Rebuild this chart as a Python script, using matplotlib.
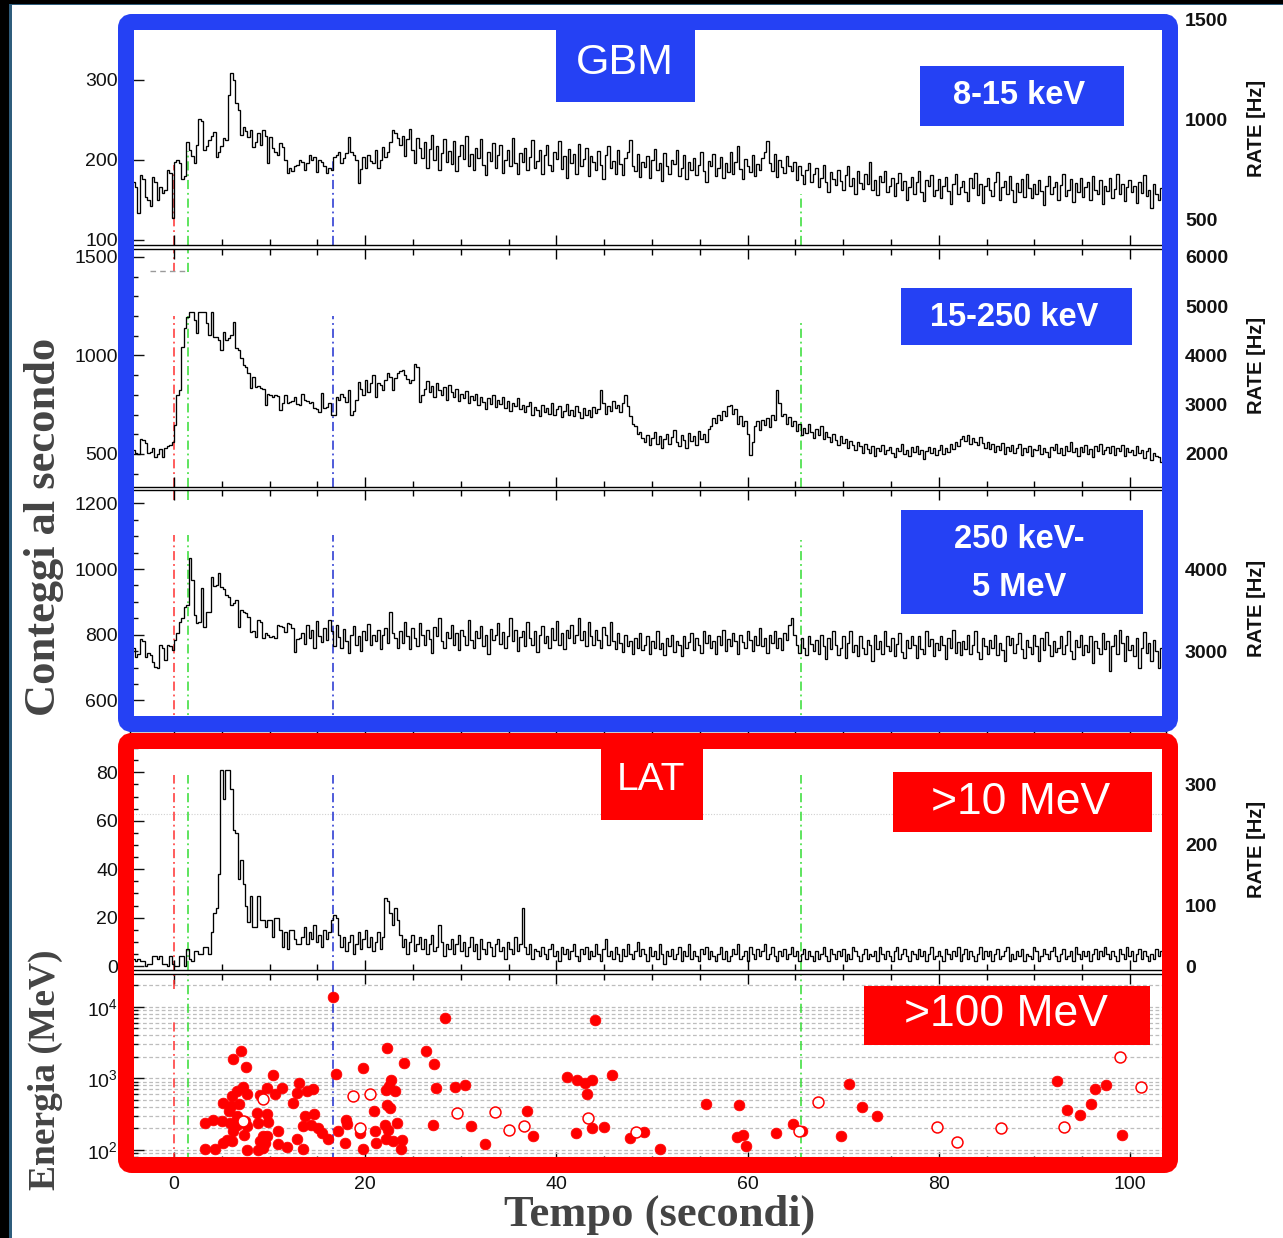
import numpy as np
import matplotlib
matplotlib.use("Agg")
import matplotlib.pyplot as plt
from matplotlib.patches import Rectangle, FancyBboxPatch
from matplotlib.ticker import MultipleLocator, FixedLocator, LogLocator, NullFormatter

plt.rcParams['font.family'] = ['Liberation Sans', 'DejaVu Sans']
plt.rcParams['mathtext.fontset'] = 'custom'
plt.rcParams['mathtext.rm'] = 'Liberation Sans'
plt.rcParams['mathtext.it'] = 'Liberation Sans:italic'

# ---------------------------------------------------------------- data
# light curves: counts per 0.256 s bin, first bin starting at -4.608 s
BIN_START, BIN_WIDTH, N_BINS = -4.608, 0.256, 424
RATE_PER_COUNT = 4.0  # right-hand axis scale (Hz per count)

# GBM NaI 8-15 keV
rate_8_15 = [
    158, 172, 166, 134, 181, 176, 154, 150, 142, 179,
    172, 150, 166, 159, 162, 188, 184, 127, 198, 200,
    196, 176, 180, 223, 212, 205, 196, 219, 251, 248,
    212, 218, 225, 230, 235, 204, 210, 217, 227, 225,
    281, 308, 300, 271, 262, 231, 241, 236, 229, 237,
    216, 222, 234, 219, 237, 230, 196, 229, 215, 210,
    206, 221, 216, 200, 184, 190, 186, 192, 194, 200,
    197, 188, 196, 206, 200, 204, 185, 200, 198, 192,
    184, 190, 188, 204, 206, 210, 196, 203, 209, 229,
    210, 206, 200, 171, 189, 204, 190, 206, 199, 196,
    212, 190, 200, 216, 204, 210, 223, 237, 234, 228,
    219, 230, 205, 226, 238, 212, 196, 228, 215, 203,
    222, 190, 214, 231, 200, 218, 188, 209, 226, 198,
    211, 195, 224, 186, 205, 219, 201, 230, 193, 208,
    188, 215, 202, 226, 194, 181, 210, 199, 221, 190,
    206, 219, 184, 200, 213, 192, 227, 196, 183, 209,
    197, 215, 188, 204, 225, 190, 199, 212, 182, 206,
    219, 194, 186, 210, 201, 224, 189, 205, 178, 214,
    196, 208, 183, 220, 192, 201, 215, 180, 205, 197,
    188, 211, 194, 176, 206, 218, 190, 199, 183, 212,
    195, 181, 203, 210, 225, 192, 186, 207, 179, 198,
    191, 205, 178, 200, 214, 187, 196, 174, 209, 192,
    183, 200, 195, 212, 180, 190, 206, 176, 198, 188,
    203, 181, 194, 210, 186, 173, 199, 192, 208, 180,
    190, 204, 177, 196, 185, 210, 183, 198, 218, 189,
    176, 201, 192, 185, 206, 180, 195, 188, 203, 210,
    224, 196, 186, 208, 179, 200, 191, 184, 205, 193,
    186, 198, 175, 192, 181, 170, 188, 196, 172, 183,
    190, 166, 178, 194, 172, 160, 185, 176, 169, 188,
    174, 162, 181, 192, 168, 177, 158, 186, 171, 164,
    183, 170, 197, 163, 175, 156, 180, 172, 186, 160,
    168, 178, 155, 171, 184, 162, 174, 150, 166, 179,
    158, 172, 186, 160, 149, 175, 167, 181, 155, 163,
    176, 152, 168, 179, 161, 145, 170, 183, 158, 166,
    174, 160, 149, 177, 165, 184, 156, 170, 146, 168,
    178, 162, 155, 172, 185, 150, 166, 174, 158, 180,
    163, 148, 171, 160, 176, 154, 182, 165, 152, 170,
    158, 175, 161, 144, 168, 180, 157, 166, 173, 150,
    169, 183, 155, 162, 176, 148, 171, 160, 178, 154,
    166, 172, 150, 180, 163, 157, 175, 145, 168, 161,
    177, 153, 164, 182, 158, 170, 149, 166, 175, 160,
    168, 146, 172, 159, 181, 155, 163, 140, 170, 158,
    150, 165, 138, 125,
]

# GBM NaI 15-250 keV
rate_15_250 = [
    510, 520, 503, 498, 576, 570, 556, 503, 510, 530,
    485, 500, 525, 485, 530, 540, 546, 561, 647, 800,
    825, 1043, 1140, 1195, 1222, 1222, 1180, 1114, 1222, 1222,
    1222, 1165, 1104, 1222, 1094, 1094, 1079, 1028, 1119, 1079,
    1090, 1104, 1170, 1038, 1030, 987, 952, 940, 911, 835,
    891, 840, 845, 835, 830, 749, 805, 800, 790, 800,
    795, 723, 760, 800, 759, 764, 770, 790, 754, 750,
    805, 774, 770, 759, 762, 734, 730, 713, 810, 734,
    740, 759, 698, 700, 790, 774, 805, 790, 764, 825,
    698, 720, 774, 866, 830, 800, 876, 815, 860, 901,
    790, 860, 850, 825, 876, 911, 890, 825, 886, 911,
    920, 926, 901, 880, 860, 876, 957, 940, 764, 800,
    830, 868, 812, 845, 790, 858, 822, 800, 842, 776,
    850, 815, 790, 828, 768, 805, 782, 820, 760, 795,
    772, 805, 748, 790, 765, 730, 782, 755, 798, 740,
    776, 752, 790, 735, 768, 720, 760, 745, 785, 728,
    750, 712, 745, 765, 700, 738, 722, 690, 748, 715,
    735, 705, 760, 698, 728, 742, 685, 720, 752, 700,
    725, 690, 745, 712, 680, 735, 700, 722, 688, 740,
    710, 728, 825, 760, 705, 745, 720, 770, 735, 748,
    715, 760, 800, 742, 690, 650, 640, 600, 612, 580,
    560, 598, 545, 580, 610, 552, 590, 530, 575, 600,
    548, 585, 620, 560, 540, 595, 572, 530, 605, 565,
    590, 545, 615, 578, 600, 560, 625, 640, 680, 655,
    700, 672, 720, 690, 745, 750, 702, 728, 650, 690,
    640, 665, 600, 495, 560, 640, 665, 620, 670, 648,
    680, 635, 700, 672, 825, 760, 690, 705, 650, 688,
    640, 668, 615, 650, 598, 632, 605, 650, 612, 580,
    625, 598, 640, 575, 610, 588, 560, 600, 572, 545,
    590, 556, 575, 530, 568, 545, 520, 560, 538, 505,
    548, 525, 505, 540, 490, 530, 515, 545, 498, 522,
    535, 505, 482, 528, 515, 548, 500, 520, 490, 535,
    510, 542, 498, 520, 475, 515, 535, 505, 528, 492,
    520, 545, 500, 530, 512, 548, 525, 560, 540, 575,
    590, 565, 598, 550, 580, 560, 545, 585, 555, 530,
    560, 525, 548, 510, 540, 520, 555, 498, 535, 515,
    545, 505, 528, 550, 495, 532, 510, 540, 488, 525,
    518, 545, 500, 530, 512, 485, 535, 520, 548, 505,
    530, 495, 540, 515, 560, 508, 528, 490, 535, 512,
    545, 500, 525, 482, 538, 515, 550, 498, 520, 535,
    505, 540, 492, 528, 515, 545, 488, 530, 510, 522,
    495, 538, 505, 520, 480, 515, 530, 470, 505, 490,
    485, 460, 498, 455,
]

# GBM BGO 250 keV - 5 MeV
rate_250_5000 = [
    745, 760, 733, 740, 787, 780, 733, 744, 738, 718,
    702, 700, 769, 760, 723, 769, 765, 753, 784, 805,
    839, 850, 884, 890, 1033, 967, 860, 836, 840, 942,
    824, 869, 870, 976, 948, 950, 988, 946, 940, 921,
    915, 890, 895, 906, 824, 875, 870, 866, 854, 808,
    810, 793, 845, 840, 790, 805, 799, 793, 796, 790,
    830, 828, 824, 808, 836, 832, 820, 747, 787, 790,
    805, 772, 830, 790, 815, 760, 842, 795, 778, 820,
    785, 845, 810, 765, 830, 792, 760, 818, 780, 745,
    800, 826, 770, 795, 750, 812, 785, 832, 768, 800,
    780, 815, 755, 798, 820, 775, 869, 805, 790, 760,
    812, 775, 840, 795, 758, 820, 790, 765, 835, 800,
    770, 815, 788, 745, 822, 795, 850, 780, 760, 808,
    790, 830, 768, 805, 752, 815, 795, 770, 845, 785,
    760, 810, 790, 828, 765, 800, 742, 818, 785, 800,
    835, 772, 808, 760, 795, 850, 780, 815, 750, 792,
    810, 765, 838, 790, 770, 812, 748, 800, 825, 775,
    795, 760, 820, 785, 842, 770, 805, 758, 815, 790,
    830, 775, 800, 852, 785, 810, 765, 838, 795, 770,
    815, 785, 760, 822, 798, 770, 840, 780, 755, 805,
    775, 748, 800, 765, 782, 740, 790, 760, 805, 752,
    770, 795, 742, 780, 760, 812, 755, 775, 738, 790,
    765, 800, 748, 782, 770, 735, 795, 760, 778, 805,
    752, 790, 768, 745, 812, 775, 800, 760, 782, 740,
    795, 770, 815, 750, 788, 765, 805, 780, 742, 800,
    778, 760, 810, 785, 750, 795, 770, 820, 765, 790,
    745, 800, 775, 812, 760, 790, 752, 805, 785, 830,
    851, 800, 770, 745, 790, 760, 738, 795, 772, 750,
    785, 740, 800, 765, 725, 790, 755, 812, 770, 738,
    760, 795, 730, 775, 810, 748, 770, 735, 795, 760,
    742, 785, 768, 720, 800, 755, 780, 740, 812, 765,
    750, 790, 735, 772, 805, 748, 728, 785, 760, 795,
    770, 730, 795, 758, 742, 810, 765, 788, 735, 775,
    752, 795, 768, 725, 790, 760, 815, 745, 778, 738,
    780, 755, 798, 740, 770, 812, 748, 725, 790, 765,
    742, 785, 760, 800, 738, 775, 752, 720, 795, 768,
    790, 745, 772, 805, 755, 730, 785, 762, 740, 798,
    765, 720, 790, 752, 808, 770, 735, 782, 748, 760,
    795, 740, 768, 812, 750, 725, 785, 762, 800, 738,
    770, 748, 795, 715, 780, 760, 742, 805, 755, 782,
    690, 765, 800, 740, 814, 775, 720, 795, 752, 770,
    735, 790, 700, 760, 808, 745, 775, 720, 785, 750,
    700, 760, 680, 730,
]

# LAT > 10 MeV
rate_lat = [
    2, 3, 2, 3, 2, 2, 0, 1, 1, 4,
    4, 3, 4, 1, 1, 0, 4, 1, 0, 0,
    4, 4, 0, 7, 3, 2, 6, 6, 5, 5,
    8, 8, 5, 14, 22, 24, 38, 81, 69, 81,
    81, 73, 56, 55, 36, 44, 34, 25, 18, 29,
    16, 16, 29, 19, 19, 16, 19, 19, 12, 20,
    20, 15, 8, 14, 7, 15, 15, 11, 9, 9,
    12, 16, 9, 14, 11, 17, 10, 13, 8, 15,
    11, 14, 19, 21, 20, 13, 8, 12, 6, 10,
    13, 5, 9, 14, 7, 11, 15, 8, 12, 6,
    10, 14, 7, 12, 28, 27, 22, 17, 24, 19,
    13, 8, 11, 5, 10, 13, 6, 9, 12, 7,
    11, 5, 9, 13, 6, 8, 17, 10, 4, 9,
    7, 11, 5, 9, 13, 6, 10, 4, 8, 12,
    6, 9, 3, 11, 7, 5, 10, 8, 4, 9,
    11, 6, 8, 3, 10, 7, 5, 12, 6, 9,
    24, 8, 5, 9, 3, 7, 6, 4, 8, 5,
    3, 7, 9, 4, 6, 2, 8, 5, 7, 3,
    6, 9, 4, 2, 7, 5, 8, 3, 6, 4,
    9, 5, 2, 7, 11, 4, 6, 3, 8, 5,
    2, 7, 4, 9, 5, 3, 6, 10, 4, 7,
    5, 2, 8, 4, 6, 3, 9, 5, 1, 6,
    4, 7, 3, 5, 8, 2, 6, 4, 9, 3,
    6, 4, 2, 7, 5, 8, 3, 6, 4, 2,
    5, 8, 3, 6, 2, 4, 7, 5, 9, 3,
    4, 6, 2, 8, 5, 3, 7, 4, 6, 9,
    3, 5, 8, 4, 2, 6, 4, 7, 3, 5,
    8, 4, 6, 2, 5, 7, 3, 6, 4, 2,
    6, 3, 5, 8, 4, 2, 7, 5, 3, 6,
    4, 7, 2, 5, 3, 8, 6, 4, 2, 5,
    7, 3, 5, 4, 6, 2, 8, 5, 3, 6,
    4, 2, 6, 8, 3, 5, 7, 4, 2, 6,
    5, 3, 7, 4, 6, 2, 5, 8, 3, 4,
    6, 4, 2, 7, 5, 3, 6, 4, 8, 2,
    5, 7, 3, 6, 4, 2, 5, 8, 3, 6,
    4, 6, 2, 5, 7, 3, 4, 6, 8, 2,
    5, 3, 6, 4, 7, 2, 5, 4, 3, 8,
    6, 2, 4, 7, 5, 3, 6, 8, 4, 2,
    5, 7, 3, 4, 6, 2, 8, 5, 3, 6,
    4, 6, 2, 5, 7, 3, 6, 4, 8, 5,
    3, 6, 4, 2, 7, 5, 3, 8, 4, 6,
    2, 5, 7, 3, 6, 4, 2, 5, 3, 7,
    4, 6, 3, 5,
]

# LAT photons > 100 MeV: arrival time (s) and energy (MeV)
photon_t = [16.67, 28.35, 6.97, 6.14, 7.53, 10.32, 16.9, 19.8, 22.3, 24.06,
            26.4, 27.2, 27.4, 27.1, 13.1, 12.9, 13.95, 14.57, 11.26, 9.76,
            9.0, 10.56, 7.18, 6.56, 6.03, 7.6, 5.09, 5.93, 6.84, 5.79,
            6.56, 7.43, 3.24, 4.11, 4.99, 5.86, 6.56, 6.14, 7.67, 7.32,
            5.51, 6.03, 5.16, 3.24, 4.29, 7.67, 8.82, 9.34, 8.65, 9.7,
            8.82, 9.87, 9.34, 9.76, 9.0, 9.52, 10.92, 10.92, 11.79, 12.48,
            13.7, 14.64, 13.53, 14.3, 15.1, 15.45, 12.83, 13.46, 16.14, 17.19,
            17.99, 18.06, 17.89, 19.8, 19.46, 21.0, 20.92, 21.1, 22.3, 22.6,
            22.07, 22.4, 22.2, 22.9, 23.3, 23.9, 23.7, 22.2, 22.7, 23.1,
            22.5, 29.4, 30.4, 31.1, 32.5, 36.9, 37.5, 41.1, 42.2, 43.0,
            43.7, 43.2, 44.0, 45.8, 42.1, 43.7, 45.0, 47.7, 49.2, 50.8,
            55.6, 59.1, 58.9, 59.5, 59.8, 63.0, 64.7, 65.7, 69.8, 70.6,
            72.0, 73.5, 92.4, 93.4, 94.8, 95.9, 96.3, 97.5, 99.2]
photon_e = [13800, 7080, 2380, 1860, 1460, 1120, 1150, 1410, 2630, 1660,
            2450, 1580, 740, 224, 850, 630, 676, 708, 741, 724,
            589, 603, 759, 661, 562, 603, 457, 407, 437, 347,
            295, 257, 240, 263, 251, 234, 224, 186, 219, 162,
            138, 132, 126, 102, 102, 100, 100, 105, 324, 316,
            240, 245, 155, 155, 132, 123, 186, 120, 110, 447,
            295, 316, 219, 224, 200, 174, 141, 102, 141, 182,
            263, 229, 123, 102, 174, 182, 347, 123, 427, 380,
            224, 191, 141, 135, 240, 138, 102, 692, 955, 661,
            776, 759, 813, 219, 120, 355, 158, 1047, 955, 871,
            955, 603, 6610, 1122, 174, 204, 209, 148, 178, 102,
            437, 427, 151, 162, 115, 174, 229, 186, 158, 832,
            398, 302, 933, 363, 309, 437, 708, 813, 162]

# photons of the second event class (open circles)
photon2_t = [18.76, 20.5, 19.5, 9.34, 7.18, 29.6, 33.6, 35.0, 36.6, 43.3,
             48.3, 65.4, 67.4, 79.8, 81.9, 86.5, 93.1, 99.0, 101.2]
photon2_e = [575, 603, 200, 513, 251, 331, 339, 191, 219, 282,
             178, 186, 468, 209, 129, 204, 209, 1995, 759]

# reference times (s): trigger, LAT onset, and two later epochs
t_marks = [0.0, 1.5, 16.6, 65.6]
mark_colors = ['#ff3030', '#33dd33', '#1f2fd0', '#33dd33']

left_ticks = [[100, 200, 300], [500, 1000, 1500], [600, 800, 1000, 1200], [0, 20, 40, 60, 80]]
right_ticks = [[500, 1000, 1500], [2000, 3000, 4000, 5000, 6000], [3000, 4000], [0, 100, 200, 300]]
x_ticks = [0, 20, 40, 60, 80, 100]

band_labels = ['8-15 keV', '15-250 keV', '250 keV-\n5 MeV']
lat_labels = ['>10 MeV', '>100 MeV']

for arr in (rate_8_15, rate_15_250, rate_250_5000, rate_lat):
    assert len(arr) == N_BINS, len(arr)
assert len(photon_t) == len(photon_e)
assert len(photon2_t) == len(photon2_e)

edges = BIN_START + BIN_WIDTH * np.arange(N_BINS + 1)

# ---------------------------------------------------------------- layout
W, H = 1283, 1238
fig = plt.figure(figsize=(W / 100, H / 100), dpi=100)
fig.patch.set_facecolor('white')

BLUE = '#2541f4'
RED = '#ff0000'
PT = 0.72  # points per pixel at 100 dpi


def px_axes(top, bottom, left=130, right=1166):
    return fig.add_axes([left / W, 1 - bottom / H, (right - left) / W, (bottom - top) / H])


XLIM = ((130 - 174) / 9.56, (1166 - 174) / 9.56)

panel_px = [(15, 245), (248.5, 487), (490, 728), (731, 970), (974, 1162)]
ylims = [(93.75, 381), (332, 1543), (516, 1240.5), (-1.65, 97.1)]
minor_y = [None, 100, 50, 5]
series = [rate_8_15, rate_15_250, rate_250_5000, rate_lat]

# vertical extent (axes fraction) of each reference line in each panel
mark_spans = [
    [[(0, 0.35)], [(0, 0.41)], [(0, 0.37)], [(0, 0.22)]],
    [[(0, 0.717), (0.90, 1)], [(0, 0.717), (0.90, 1)], [(0, 0.717)], [(0, 0.70)]],
    [[(0, 0.81), (0.958, 1)], [(0, 0.81), (0.958, 1)], [(0, 0.81)], [(0, 0.79)]],
    [[(0, 0.816)], [(0, 0.816)], [(0, 0.816)], [(0, 0.816)]],
    [[(0, 0.755), (0.92, 1)], [(0, 1)], [(0, 0.94)], [(0, 1)]],
]
DASHDOT = (0, (6, 2.5, 1.2, 2.5))

axes = []
for i, (top, bot) in enumerate(panel_px):
    ax = px_axes(top, bot)
    axes.append(ax)
    ax.set_xlim(*XLIM)
    ax.xaxis.set_major_locator(MultipleLocator(20))
    ax.xaxis.set_minor_locator(MultipleLocator(5))
    ax.tick_params(axis='x', which='both', direction='in', top=True, bottom=True,
                   labelbottom=False, width=1, color='black')
    ax.tick_params(axis='x', which='major', length=7)
    ax.tick_params(axis='x', which='minor', length=4)
    ax.tick_params(axis='y', which='both', direction='in', left=True, right=False,
                   labelsize=14, pad=12 * PT, width=1, colors='#111111')
    ax.tick_params(axis='y', which='major', length=10)
    ax.tick_params(axis='y', which='minor', length=6)
    for s in ax.spines.values():
        s.set_linewidth(1.0)

    for t, c, spans in zip(t_marks, mark_colors, mark_spans[i]):
        for y0, y1 in spans:
            ax.axvline(t, y0, y1, color=c, ls=DASHDOT, lw=1.1, zorder=1)

    if i < 4:
        ax.stairs(series[i], edges, baseline=None, color='black', lw=0.95, zorder=3)
        ax.set_ylim(*ylims[i])
        ax.yaxis.set_major_locator(FixedLocator(left_ticks[i]))
        if minor_y[i]:
            ax.yaxis.set_minor_locator(MultipleLocator(minor_y[i]))
        tw = ax.twinx()
        tw.set_ylim(RATE_PER_COUNT * ylims[i][0], RATE_PER_COUNT * ylims[i][1])
        tw.yaxis.set_major_locator(FixedLocator(right_ticks[i]))
        tw.tick_params(axis='y', length=0, pad=19 * PT, labelsize=14, colors='#111111')
        for lab in tw.get_yticklabels():
            lab.set_fontweight('bold')
        for s in tw.spines.values():
            s.set_visible(False)

ax1, ax2, ax3, ax4, ax5 = axes

# overflow marker of the 15-250 keV light curve and a LAT reference level
ax2.hlines(1430, -2.5, 1.2, color='#9a9a9a', ls=(0, (4, 3)), lw=1)
ax4.axhline(63, color='#d0d0d0', ls=(0, (1, 1.5)), lw=0.8, zorder=0)

# photon energies
ax5.set_yscale('log')
ax5.set_ylim(10 ** 1.83, 10 ** 4.46)
ax5.yaxis.set_major_locator(FixedLocator([1e2, 1e3, 1e4]))
ax5.yaxis.set_minor_locator(LogLocator(base=10, subs=range(2, 10)))
ax5.yaxis.set_minor_formatter(NullFormatter())
ax5.set_yticks([1e2, 1e3, 1e4])
ax5.set_yticklabels([r'$\mathregular{10^2}$', r'$\mathregular{10^3}$', r'$\mathregular{10^4}$'])
ax5.grid(True, which='both', axis='y', ls=(0, (3, 2)), color='#bdbdbd', lw=0.9, zorder=0)
ax5.set_axisbelow(True)
ax5.scatter(photon_t, photon_e, s=60, color=RED, edgecolors=RED, linewidths=0.5, zorder=4)
ax5.scatter(photon2_t, photon2_e, s=62, facecolors='white', edgecolors=RED, linewidths=1.1, zorder=4)
ax5.set_xticks(x_ticks)
ax5.tick_params(axis='x', labelbottom=True, labelsize=14, pad=14 * PT, labelcolor='#111111')

# ---------------------------------------------------------------- overlay (pixel coordinates)
ov = fig.add_axes([0, 0, 1, 1], zorder=20)
ov.set_xlim(0, W)
ov.set_ylim(H, 0)
ov.axis('off')
ov.patch.set_alpha(0)

# dark window edge
ov.add_patch(Rectangle((0, 0), W, 4.3, color='black', lw=0))
ov.add_patch(Rectangle((0, 0), 9.3, H, color='black', lw=0))
ov.add_patch(Rectangle((9.3, 4.3), W, 1.2, color='#2f5d7c', lw=0))
ov.add_patch(Rectangle((9.3, 4.3), 2.2, H, color='#2f5d7c', lw=0))

# instrument frames
ov.add_patch(FancyBboxPatch((126, 22), 1044, 702, boxstyle='round,pad=0,rounding_size=6',
                            fill=False, ec=BLUE, lw=16 * PT))
ov.add_patch(FancyBboxPatch((126, 741), 1044, 424, boxstyle='round,pad=0,rounding_size=6',
                            fill=False, ec=RED, lw=16 * PT))


def label_box(x0, y0, x1, y1, color):
    ov.add_patch(Rectangle((x0, y0), x1 - x0, y1 - y0, color=color, lw=0))


BAND = dict(ha='center', color='white', fontsize=23.5, weight='bold')

label_box(556, 28, 695, 102, BLUE)
ov.text(625, 63, 'GBM', ha='center', va='center', color='white', fontsize=31)
label_box(920, 66, 1124, 126, BLUE)
ov.text(1019, 95, band_labels[0], va='center', **BAND)
label_box(901, 288, 1132, 345, BLUE)
ov.text(1014, 317, band_labels[1], va='center', **BAND)
label_box(901, 510, 1143, 614, BLUE)
line1, line2 = band_labels[2].split('\n')
ov.text(1019, 539, line1, va='center', **BAND)
ov.text(1019, 588, line2, va='center', **BAND)

label_box(601, 747, 703, 820, RED)
ov.text(651, 780, 'LAT', ha='center', va='center', color='white', fontsize=28)
label_box(893, 772, 1152, 832, RED)
ov.text(1021, 802, lat_labels[0], ha='center', va='center', color='white', fontsize=32)
label_box(864, 986, 1150, 1045, RED)
ov.text(1006, 1015, lat_labels[1], ha='center', va='center', color='white', fontsize=32)

# axis titles
SERIF = ['Liberation Serif', 'DejaVu Serif']
ov.text(44, 527, 'Conteggi al secondo', rotation=90, ha='center', va='center',
        family=SERIF, weight='bold', fontsize=32, color='#444444')
ov.text(45, 1070, 'Energia (MeV)', rotation=90, ha='center', va='center',
        family=SERIF, weight='bold', fontsize=27, color='#444444')
ov.text(660, 1215, 'Tempo (secondi)', ha='center', va='center',
        family=SERIF, weight='bold', fontsize=32, color='#444444')
for yc in (128, 365, 608, 849):
    ov.text(1257, yc, 'RATE [Hz]', rotation=90, ha='center', va='center',
            fontsize=14.5, weight='bold', color='#111111')

fig.savefig('out.png', dpi=100, facecolor='white')
